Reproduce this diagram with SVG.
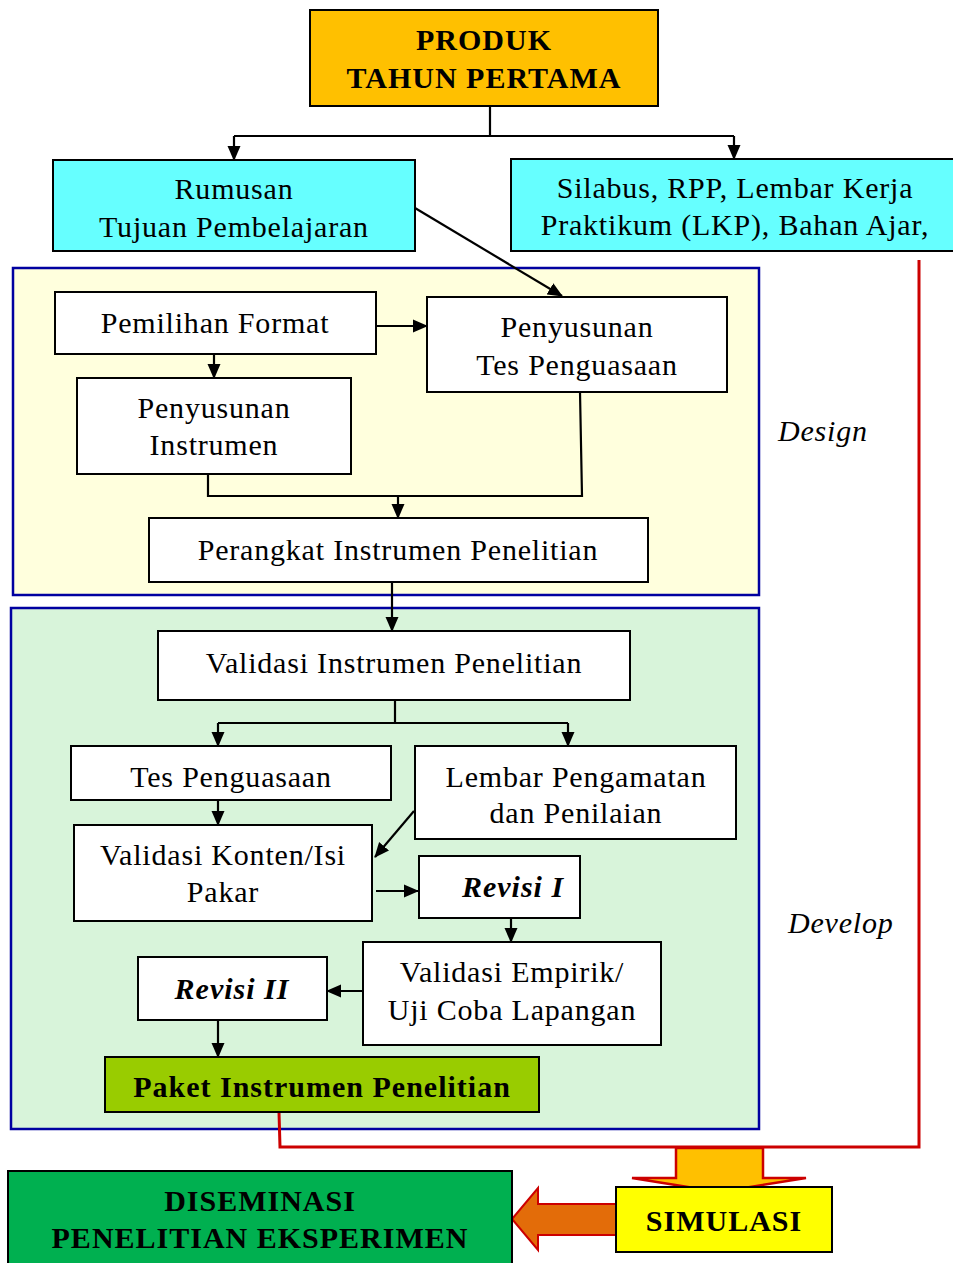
<svg xmlns="http://www.w3.org/2000/svg" width="953" height="1263" viewBox="0 0 953 1263">
  <style>
    .box { fill: #ffffff; stroke: #000000; stroke-width: 2; }
    .t { font-family: "Liberation Serif", "Times New Roman", serif; font-size: 30px; letter-spacing: 0.8px; fill: #000000; text-anchor: middle; }
    .b { font-family: "Liberation Serif", "Times New Roman", serif; font-size: 30px; font-weight: bold; letter-spacing: 1px; fill: #000000; text-anchor: middle; }
    .bi { font-family: "Liberation Serif", "Times New Roman", serif; font-size: 30px; font-weight: bold; font-style: italic; letter-spacing: 1px; fill: #000000; text-anchor: middle; }
    .it { font-family: "Liberation Serif", "Times New Roman", serif; font-size: 30px; font-style: italic; letter-spacing: 0.8px; fill: #000000; }
    .phase { stroke: #0000a0; stroke-width: 2.5; }
    .link { fill: none; stroke: #000000; stroke-width: 2.2; }
    .arr { marker-end: url(#head); }
    .flow { fill: none; stroke: #cc0000; stroke-width: 3; }
  </style>
  <defs>
    <marker id="head" viewBox="0 0 15 14" markerWidth="15" markerHeight="14" refX="14" refY="7" orient="auto" markerUnits="userSpaceOnUse">
      <path d="M0,0.5 L15,7 L0,13.5 z" fill="#000000"/>
    </marker>
  </defs>

  <rect width="953" height="1263" fill="#ffffff"/>

  <!-- phase panels -->
  <g id="design-panel">
    <rect class="phase" x="13" y="268" width="746" height="327" fill="#ffffdd"/>
    <text class="it" x="778" y="441">Design</text>
  </g>
  <g id="develop-panel">
    <rect class="phase" x="11" y="608" width="748" height="521" fill="#d8f4da"/>
    <text class="it" x="788" y="933">Develop</text>
  </g>

  <!-- connectors -->
  <g id="connectors">
    <path class="link" d="M490,106 V136 M234,136 H734"/>
    <path class="link arr" d="M234,136 V160"/>
    <path class="link arr" d="M734,136 V159"/>
    <path class="link arr" d="M415,208 L562,296"/>
    <path class="link arr" d="M376,326 H427"/>
    <path class="link arr" d="M214,354 V378"/>
    <path class="link" d="M208,474 V496 H582 L580,392"/>
    <path class="link arr" d="M398,496 V518"/>
    <path class="link arr" d="M392,582 V631"/>
    <path class="link" d="M395,700 V723 M218,723 H568"/>
    <path class="link arr" d="M218,723 V746"/>
    <path class="link arr" d="M568,723 V746"/>
    <path class="link arr" d="M218,800 V825"/>
    <path class="link arr" d="M414,811 L375,857"/>
    <path class="link arr" d="M376,891 H418"/>
    <path class="link arr" d="M511,918 V942"/>
    <path class="link arr" d="M363,991 H327"/>
    <path class="link arr" d="M218,1020 V1057"/>
    <path class="flow" d="M279,1112 L280,1147 H919 V260"/>
    <!-- block arrow down into SIMULASI -->
    <path d="M676,1148 H763 V1178 H806 L719,1192 L632,1178 H676 Z" fill="#ffc000" stroke="#cc0000" stroke-width="2.5" stroke-linejoin="miter"/>
    <!-- block arrow from SIMULASI to DISEMINASI -->
    <path d="M617,1204 V1235 H538 V1250 L512,1219 L538,1188 V1204 Z" fill="#e36c09" stroke="#cc0000" stroke-width="2"/>
  </g>

  <!-- nodes -->
  <g id="produk">
    <rect x="310" y="10" width="348" height="96" fill="#ffc000" stroke="#000000" stroke-width="2"/>
    <text class="b" x="484" y="50">PRODUK</text>
    <text class="b" x="484" y="88">TAHUN PERTAMA</text>
  </g>
  <g id="rumusan">
    <rect x="53" y="160" width="362" height="91" fill="#66ffff" stroke="#000000" stroke-width="2"/>
    <text class="t" x="234" y="199">Rumusan</text>
    <text class="t" x="234" y="237">Tujuan Pembelajaran</text>
  </g>
  <g id="silabus">
    <rect x="511" y="159" width="450" height="92" fill="#66ffff" stroke="#000000" stroke-width="2"/>
    <text class="t" x="735" y="198">Silabus, RPP, Lembar Kerja</text>
    <text class="t" x="735" y="235">Praktikum (LKP), Bahan Ajar,</text>
  </g>
  <g id="pemilihan-format">
    <rect class="box" x="55" y="292" width="321" height="62"/>
    <text class="t" x="215" y="333">Pemilihan Format</text>
  </g>
  <g id="penyusunan-tes">
    <rect class="box" x="427" y="297" width="300" height="95"/>
    <text class="t" x="577" y="337">Penyusunan</text>
    <text class="t" x="577" y="375">Tes Penguasaan</text>
  </g>
  <g id="penyusunan-instrumen">
    <rect class="box" x="77" y="378" width="274" height="96"/>
    <text class="t" x="214" y="418">Penyusunan</text>
    <text class="t" x="214" y="455">Instrumen</text>
  </g>
  <g id="perangkat">
    <rect class="box" x="149" y="518" width="499" height="64"/>
    <text class="t" x="398" y="560">Perangkat Instrumen Penelitian</text>
  </g>
  <g id="validasi-instrumen">
    <rect class="box" x="158" y="631" width="472" height="69"/>
    <text class="t" x="394" y="673">Validasi Instrumen Penelitian</text>
  </g>
  <g id="tes-penguasaan">
    <rect class="box" x="71" y="746" width="320" height="54"/>
    <text class="t" x="231" y="787">Tes Penguasaan</text>
  </g>
  <g id="lembar-pengamatan">
    <rect class="box" x="415" y="746" width="321" height="93"/>
    <text class="t" x="576" y="787">Lembar Pengamatan</text>
    <text class="t" x="576" y="823">dan Penilaian</text>
  </g>
  <g id="validasi-konten">
    <rect class="box" x="74" y="825" width="298" height="96"/>
    <text class="t" x="223" y="865">Validasi Konten/Isi</text>
    <text class="t" x="223" y="902">Pakar</text>
  </g>
  <g id="revisi-1">
    <rect class="box" x="419" y="856" width="161" height="62"/>
    <text class="bi" x="513" y="897">Revisi I</text>
  </g>
  <g id="validasi-empirik">
    <rect class="box" x="363" y="942" width="298" height="103"/>
    <text class="t" x="512" y="982">Validasi Empirik/</text>
    <text class="t" x="512" y="1020">Uji Coba Lapangan</text>
  </g>
  <g id="revisi-2">
    <rect class="box" x="138" y="957" width="189" height="63"/>
    <text class="bi" x="232" y="999">Revisi II</text>
  </g>
  <g id="paket">
    <rect x="105" y="1057" width="434" height="55" fill="#99cc00" stroke="#000000" stroke-width="2"/>
    <text class="b" x="322" y="1097">Paket Instrumen Penelitian</text>
  </g>
  <g id="simulasi">
    <rect x="616" y="1187" width="216" height="65" fill="#ffff00" stroke="#000000" stroke-width="2"/>
    <text class="b" x="724" y="1231">SIMULASI</text>
  </g>
  <g id="diseminasi">
    <rect x="8" y="1171" width="504" height="100" fill="#00b050" stroke="#000000" stroke-width="2"/>
    <text class="b" x="260" y="1211">DISEMINASI</text>
    <text class="b" x="260" y="1248">PENELITIAN EKSPERIMEN</text>
  </g>
</svg>
